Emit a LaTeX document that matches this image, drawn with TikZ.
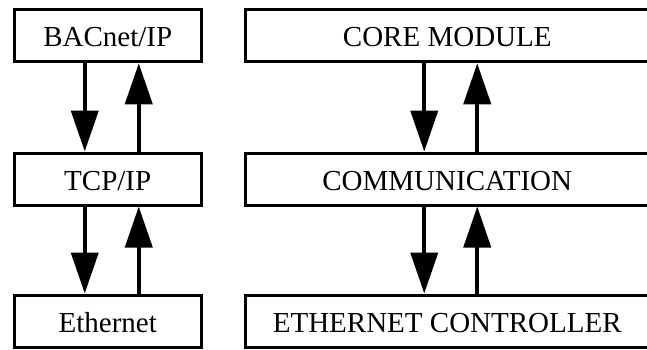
\documentclass[tikz,border=0pt]{standalone}
\usepackage{fontspec}
\setmainfont{Liberation Serif}
\usetikzlibrary{arrows.meta}
\begin{document}
\begin{tikzpicture}[x=1pt,y=-1pt,
  layerbox/.style={draw=black,line width=3pt,rectangle,inner sep=0pt,
    minimum height=52pt,text height=22pt,text depth=0pt,
    font=\fontsize{29pt}{31pt}\selectfont},
  leftbox/.style={layerbox,minimum width=187.5pt},
  rightbox/.style={layerbox,minimum width=403.5pt},
  flow/.style={line width=4pt,-{Triangle[length=41pt,width=27pt]}}]
\useasboundingbox (0,0) rectangle (647,349);
\node[leftbox] (bac) at (107.75,35.75) {BACnet/IP};
\node[leftbox] (tcp) at (107.75,179) {TCP/IP};
\node[leftbox] (eth) at (107.75,321) {Ethernet};
\node[rightbox] (core) at (447.25,35.75) {CORE MODULE};
\node[rightbox] (comm) at (447.25,179) {COMMUNICATION};
\node[rightbox] (ctrl) at (447.25,321) {ETHERNET CONTROLLER};
\draw[flow] ([xshift=-23pt]bac.south) -- ([xshift=-23pt]tcp.north);
\draw[flow] ([xshift=31pt]tcp.north) -- ([xshift=31pt]bac.south);
\draw[flow] ([xshift=-23pt]tcp.south) -- ([xshift=-23pt]eth.north);
\draw[flow] ([xshift=31pt]eth.north) -- ([xshift=31pt]tcp.south);
\draw[flow] ([xshift=-23pt]core.south) -- ([xshift=-23pt]comm.north);
\draw[flow] ([xshift=30pt]comm.north) -- ([xshift=30pt]core.south);
\draw[flow] ([xshift=-23pt]comm.south) -- ([xshift=-23pt]ctrl.north);
\draw[flow] ([xshift=30pt]ctrl.north) -- ([xshift=30pt]comm.south);
\end{tikzpicture}
\end{document}
